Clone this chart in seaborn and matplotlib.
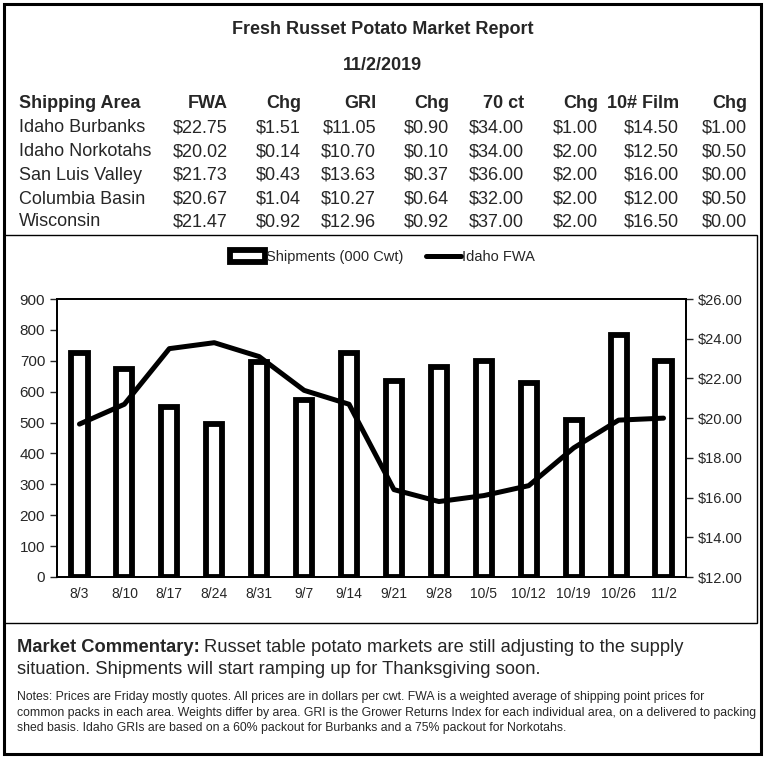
import numpy as np
import matplotlib
matplotlib.use("Agg")
import matplotlib.pyplot as plt
import seaborn as sns
from matplotlib.patches import Rectangle
from matplotlib.ticker import FuncFormatter

# Table data
header = ["Shipping Area", "FWA", "Chg", "GRI", "Chg", "70 ct", "Chg", "10# Film", "Chg"]
areas = ["Idaho Burbanks", "Idaho Norkotahs", "San Luis Valley", "Columbia Basin", "Wisconsin"]
fwa = ["$22.75", "$20.02", "$21.73", "$20.67", "$21.47"]
fwa_chg = ["$1.51", "$0.14", "$0.43", "$1.04", "$0.92"]
gri = ["$11.05", "$10.70", "$13.63", "$10.27", "$12.96"]
gri_chg = ["$0.90", "$0.10", "$0.37", "$0.64", "$0.92"]
ct70 = ["$34.00", "$34.00", "$36.00", "$32.00", "$37.00"]
ct70_chg = ["$1.00", "$2.00", "$2.00", "$2.00", "$2.00"]
film10 = ["$14.50", "$12.50", "$16.00", "$12.00", "$16.50"]
film10_chg = ["$1.00", "$0.50", "$0.00", "$0.50", "$0.00"]

# Chart data
weeks = ["8/3", "8/10", "8/17", "8/24", "8/31", "9/7", "9/14", "9/21",
         "9/28", "10/5", "10/12", "10/19", "10/26", "11/2"]
shipments = [725, 675, 550, 495, 695, 573, 725, 635, 680, 700, 628, 507, 783, 700]
idaho_fwa = [19.7, 20.7, 23.5, 23.8, 23.1, 21.4, 20.7, 16.4, 15.8, 16.1, 16.6, 18.5, 19.9, 20.0]

sns.set_style("white")
plt.rcParams["font.family"] = ["Liberation Sans", "DejaVu Sans"]

W, H = 765, 759
fig = plt.figure(figsize=(W / 100, H / 100), dpi=100)


def fx(px):
    return px / W


def fy(py):
    return 1 - py / H


# frames
fig.patches.append(Rectangle((fx(4), fy(754)), fx(757), 750 / H, transform=fig.transFigure,
                             fill=False, edgecolor="black", linewidth=2.2))
fig.patches.append(Rectangle((fx(4), fy(623)), fx(753), 388 / H, transform=fig.transFigure,
                             fill=False, edgecolor="black", linewidth=1.0))

# title
fig.text(0.5, fy(29), "Fresh Russet Potato Market Report", ha="center", va="center",
         fontsize=13, fontweight="bold")
fig.text(0.5, fy(66), "11/2/2019", ha="center", va="center", fontsize=13, fontweight="bold")

# table
col_right = [228, 301, 376, 449, 524, 598, 679, 747]
fig.text(fx(19), fy(104), header[0], ha="left", va="center", fontsize=13, fontweight="bold")
for xr, lab in zip(col_right, header[1:]):
    fig.text(fx(xr), fy(104), lab, ha="right", va="center", fontsize=13, fontweight="bold")
cols = [fwa, fwa_chg, gri, gri_chg, ct70, ct70_chg, film10, film10_chg]
row_y = [128, 152, 175, 199, 222]
for i, area in enumerate(areas):
    fig.text(fx(19), fy(row_y[i]), area, ha="left", va="center", fontsize=13)
    for xr, col in zip(col_right, cols):
        fig.text(fx(xr), fy(row_y[i]), col[i], ha="right", va="center", fontsize=13)

# chart
ax = fig.add_axes([fx(57), fy(577), fx(686 - 57), (577 - 299) / H])
sns.barplot(x=weeks, y=shipments, ax=ax, color="white", edgecolor="black",
            linewidth=4.2, width=0.36, label="Shipments (000 Cwt)")
ax.set_ylim(0, 900)
ax.set_xlim(-0.5, len(weeks) - 0.5)
ax.set_yticks(range(0, 901, 100))
ax.set_xticks(np.arange(-0.5, len(weeks), 1), minor=True)
ax.tick_params(axis="x", which="major", length=0, labelsize=10, pad=7)
ax.tick_params(axis="x", which="minor", direction="inout", length=8, width=1)
ax.tick_params(axis="y", direction="out", length=5, width=1, labelsize=11, left=True)
ax.set_xlabel("")
ax.set_ylabel("")
for s in ax.spines.values():
    s.set_color("black")
    s.set_linewidth(1.3)

ax2 = ax.twinx()
sns.lineplot(x=weeks, y=idaho_fwa, ax=ax2, color="black", linewidth=3.6,
             sort=False, label="Idaho FWA")
ax2.set_ylim(12, 26)
ax2.set_yticks(np.arange(12, 27, 2))
ax2.yaxis.set_major_formatter(FuncFormatter(lambda v, p: f"${v:.2f}"))
ax2.tick_params(axis="y", direction="out", length=5, width=1, labelsize=10.5, right=True)
ax2.set_ylabel("")
for s in ax2.spines.values():
    s.set_color("black")
    s.set_linewidth(1.3)

for a in (ax, ax2):
    if a.get_legend() is not None:
        a.get_legend().remove()

h1, l1 = ax.get_legend_handles_labels()
h2, l2 = ax2.get_legend_handles_labels()
fig.legend(h1 + h2, l1 + l2, loc="center", bbox_to_anchor=(0.5, fy(257)), ncol=2,
           frameon=False, fontsize=10.5, handlelength=2.4, handleheight=0.8,
           handletextpad=0.1, columnspacing=1.5)

# commentary
renderer = fig.canvas.get_renderer()
bold = fig.text(fx(17), fy(648), "Market Commentary:", ha="left", va="center",
                fontsize=13.2, fontweight="bold")
bb = bold.get_window_extent(renderer)
fig.text((bb.x1 + 4) / W, fy(648),
         "Russet table potato markets are still adjusting to the supply",
         ha="left", va="center", fontsize=13.2)
fig.text(fx(17), fy(669), "situation. Shipments will start ramping up for Thanksgiving soon.",
         ha="left", va="center", fontsize=13.2)
notes = ["Notes: Prices are Friday mostly quotes. All prices are in dollars per cwt. FWA is a weighted average of shipping point prices for",
         "common packs in each area. Weights differ by area. GRI is the Grower Returns Index for each individual area, on a delivered to packing",
         "shed basis. Idaho GRIs are based on a 60% packout for Burbanks and a 75% packout for Norkotahs."]
notes_y = [697, 713, 728]
for y, line in zip(notes_y, notes):
    fig.text(fx(17), fy(y), line, ha="left", va="center", fontsize=8.8)

fig.savefig("out.png", dpi=100)
